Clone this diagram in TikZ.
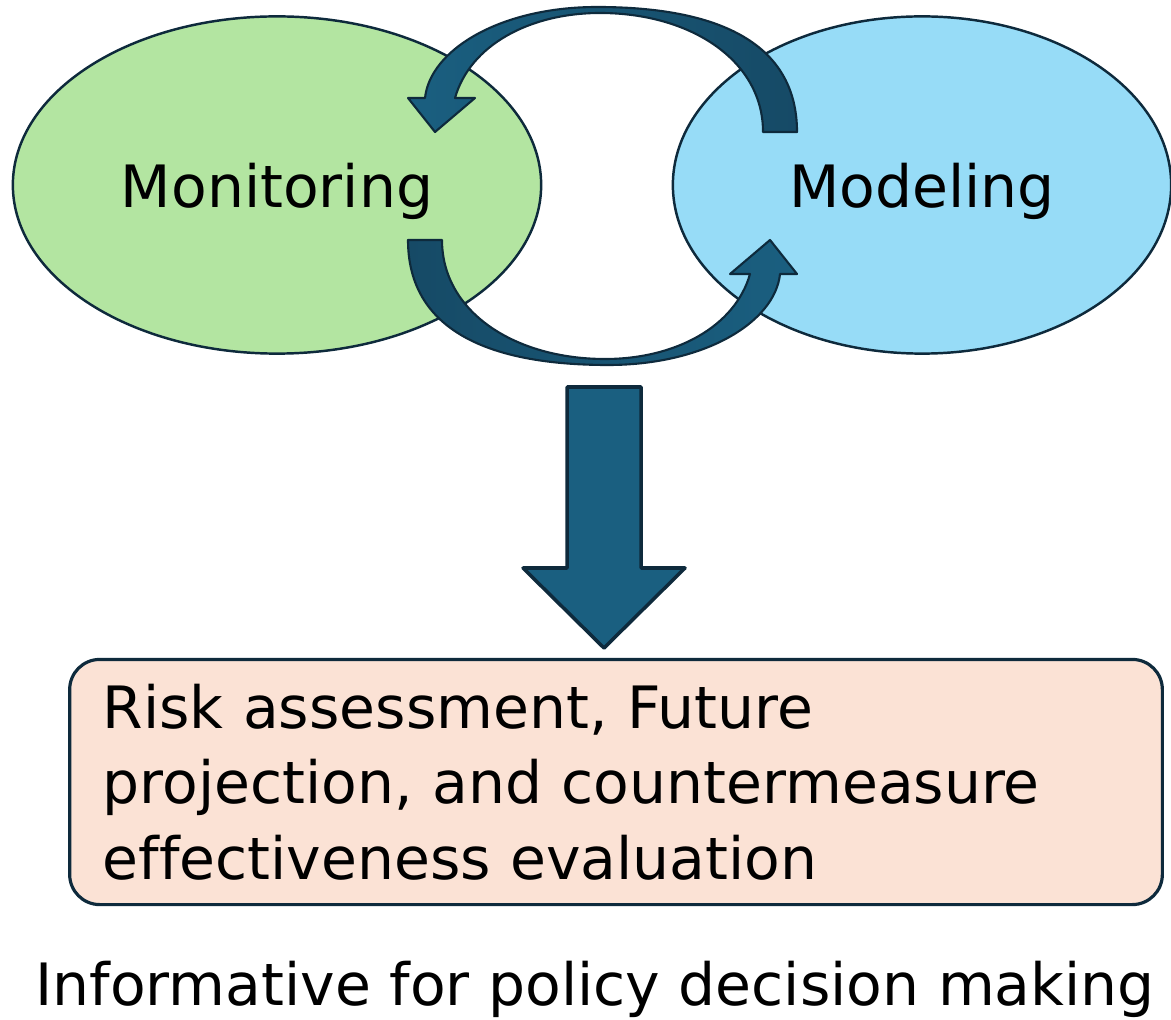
\documentclass[tikz,border=0pt]{standalone}
\usepackage{fontspec}
\setmainfont{DejaVu Sans}[Ligatures=NoCommon]
\usetikzlibrary{shapes.geometric}
\definecolor{monfill}{HTML}{B3E5A1}
\definecolor{modfill}{HTML}{97DCF7}
\definecolor{resfill}{HTML}{FBE2D5}
\definecolor{arrfill}{HTML}{1A5F80}
\definecolor{arrdark}{HTML}{164A66}
\definecolor{lineblue}{HTML}{0E2A3C}
\tikzset{el/.style  = {ellipse, draw=lineblue, line width=0.7pt, inner sep=0pt, text depth=0pt},
         cyc/.style = {draw=lineblue, line width=0.6pt, line join=round},
         blk/.style = {draw=lineblue, fill=arrfill, line width=1pt, line join=round},
         rs/.style  = {rectangle, rounded corners=0.3cm, draw=lineblue, line width=0.9pt, fill=resfill,
                       align=left, inner xsep=0.33cm, inner ysep=0pt}}

\begin{document}
\begin{tikzpicture}[x=0.01cm, y=-0.01cm, font=\fontsize{16.6}{21.5}\selectfont]
    \useasboundingbox (0,0) rectangle (1171,1019);
    \node[el, fill=monfill, minimum width=5.28cm, minimum height=3.37cm] (mon) at (277,185) {Monitoring};
    \node[el, fill=modfill, minimum width=4.98cm, minimum height=3.37cm] (mod) at (922,185) {Modeling};
    % loop: modeling -> monitoring (top), monitoring -> modeling (bottom)
    \draw[cyc, left color=arrfill, right color=arrdark] (797,132) .. controls (797,50) and (730,7) .. (597,7)
        .. controls (500,7) and (430,50) .. (425,98) -- (408,98) -- (435,132) -- (475,98) -- (455,98)
        .. controls (470,45) and (530,13) .. (600,13) .. controls (690,13) and (763,60) .. (763,132) -- cycle;
    \draw[cyc, left color=arrdark, right color=arrfill] (408,240) .. controls (408,322) and (475,365) .. (608,365)
        .. controls (705,365) and (775,322) .. (780,274) -- (797,274) -- (770,240) -- (730,274) -- (750,274)
        .. controls (735,327) and (675,359) .. (605,359) .. controls (515,359) and (442,312) .. (442,240) -- cycle;
    % down to the results
    \draw[blk] (567,387) -- (641,387) -- (641,568) -- (685,568) -- (604,648) -- (523,568) -- (567,568) -- cycle;
    \node[rs, minimum width=10.92cm, minimum height=2.45cm, text width=10.26cm] (res) at (616,782)
        {Risk assessment, Future\\projection, and countermeasure\\effectiveness evaluation};
    \node[anchor=base] (info) at (595,1005) {Informative for policy decision making};
\end{tikzpicture}
\end{document}
